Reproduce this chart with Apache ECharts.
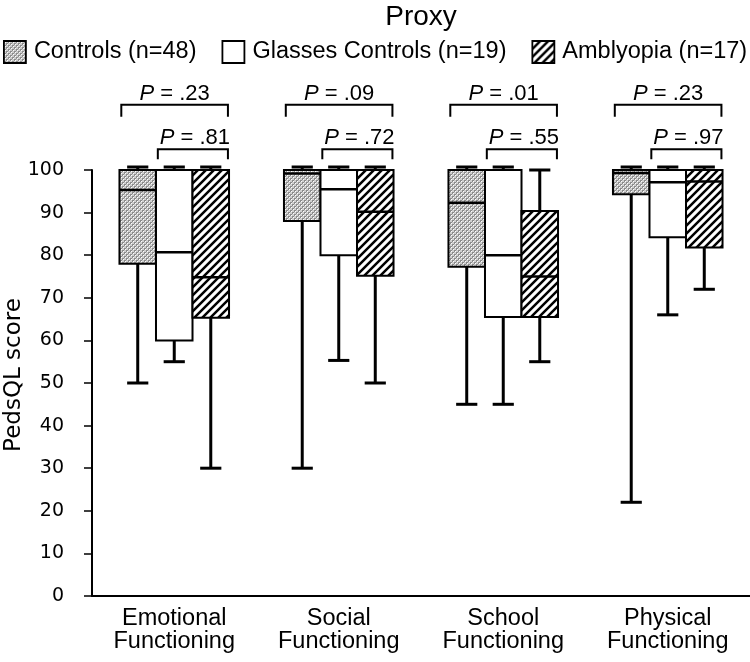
<!DOCTYPE html>
<html>
<head>
<meta charset="utf-8">
<script src="https://cdn.jsdelivr.net/npm/echarts@6/dist/echarts.min.js"></script>
<style>
html, body { margin: 0; padding: 0; background: #fff; }
#chart { width: 750px; height: 662px; }
</style>
</head>
<body>
<div id="chart"></div>
<script>
// box values per domain: [min, Q1, median, Q3, max]
var categories = ['Emotional\nFunctioning', 'Social\nFunctioning', 'School\nFunctioning', 'Physical\nFunctioning'];
var controls = [
  [50, 78, 95.3, 100, 100],
  [30, 88, 99.2, 100, 100],
  [45, 77.3, 92.3, 100, 100],
  [22, 94.3, 99.3, 100, 100]
];
var glassesControls = [
  [55, 60, 80.7, 100, 100],
  [55.3, 80, 95.5, 100, 100],
  [45, 65.5, 80, 100, 100],
  [66, 84.2, 97.1, 100, 100]
];
var amblyopia = [
  [30, 65.3, 74.8, 100, 100],
  [50, 75.2, 90.2, 100, 100],
  [55, 65.5, 75, 90.4, 100],
  [72, 81.8, 97.3, 100, 100]
];
var pAllGroups = ['.23', '.09', '.01', '.23'];
var pGlassesAmb = ['.81', '.72', '.55', '.97'];
var seriesNames = ['Controls (n=48)', 'Glasses Controls (n=19)', 'Amblyopia (n=17)'];

var FONT = '"Liberation Sans", Arial, sans-serif';
var boxFrac = 0.222;   // box width as part of the category band

// fill patterns
function stipple() {
  var c = document.createElement('canvas');
  c.width = 4; c.height = 4;
  var g = c.getContext('2d');
  g.fillStyle = '#cfcfcf'; g.fillRect(0, 0, 4, 4);
  g.fillStyle = '#8a8a8a';
  g.fillRect(0, 0, 2, 2); g.fillRect(2, 2, 2, 2);
  g.fillStyle = '#ffffff';
  g.fillRect(1, 1, 1, 1); g.fillRect(3, 3, 1, 1);
  return c;
}
function hatch() {
  var s = 8;
  var c = document.createElement('canvas');
  c.width = s; c.height = s;
  var g = c.getContext('2d');
  g.fillStyle = '#fff'; g.fillRect(0, 0, s, s);
  g.strokeStyle = '#000'; g.lineWidth = 2.5;
  g.beginPath();
  g.moveTo(-1, s + 1); g.lineTo(s + 1, -1);
  g.moveTo(-1, 1); g.lineTo(1, -1);
  g.moveTo(s - 1, s + 1); g.lineTo(s + 1, s - 1);
  g.stroke();
  return c;
}
var fills = [
  { image: stipple(), repeat: 'repeat' },
  '#ffffff',
  { image: hatch(), repeat: 'repeat' }
];

function boxSeries(name, values, slot, fill) {
  return {
    name: name,
    type: 'custom',
    itemStyle: { color: fill, borderColor: '#000', borderWidth: 1.5 },
    encode: { x: 0, y: [1, 2, 3, 4, 5] },
    data: values.map(function (d, i) { return [i].concat(d); }),
    renderItem: function (params, api) {
      var i = api.value(0);
      var w = api.size([1, 0])[0] * boxFrac;
      var cx = api.coord([i, 0])[0] + slot * w;
      var y = [1, 2, 3, 4, 5].map(function (k) { return api.coord([i, api.value(k)])[1]; });
      var yMin = y[0], yQ1 = y[1], yMed = y[2], yQ3 = y[3], yMax = y[4];
      var capW = w * 0.58;
      var capY = Math.min(yMax, yQ3 - 3);
      var line = { stroke: '#000', lineWidth: 3 };
      return {
        type: 'group',
        children: [
          { type: 'line', shape: { x1: cx, y1: yQ1, x2: cx, y2: yMin }, style: line },
          { type: 'line', shape: { x1: cx - capW / 2, y1: yMin, x2: cx + capW / 2, y2: yMin }, style: line },
          { type: 'line', shape: { x1: cx, y1: yQ3, x2: cx, y2: capY }, style: line },
          { type: 'line', shape: { x1: cx - capW / 2, y1: capY, x2: cx + capW / 2, y2: capY }, style: line },
          { type: 'rect', shape: { x: cx - w / 2, y: yQ3, width: w, height: yQ1 - yQ3 },
            style: { fill: fill, stroke: '#000', lineWidth: 2 } },
          { type: 'line', shape: { x1: cx - w / 2, y1: yMed, x2: cx + w / 2, y2: yMed },
            style: { stroke: '#000', lineWidth: 2.5 } }
        ]
      };
    }
  };
}

function bracket(x1, x2, y, drop) {
  return {
    type: 'polyline',
    shape: { points: [[x1, y + drop], [x1, y], [x2, y], [x2, y + drop]] },
    style: { stroke: '#000', lineWidth: 2, fill: null }
  };
}
function pLabel(x, y, p) {
  return {
    type: 'text',
    style: {
      x: x, y: y, text: '{i|P} = ' + p, align: 'center', verticalAlign: 'bottom',
      fill: '#000', fontSize: 22, fontFamily: FONT,
      rich: { i: { fontStyle: 'italic', fontSize: 22, fontFamily: FONT, fill: '#000' } }
    }
  };
}

var bracketSeries = {
  type: 'custom',
  silent: true,
  data: categories.map(function (c, i) { return [i]; }),
  encode: { x: 0 },
  renderItem: function (params, api) {
    var i = api.value(0);
    var w = api.size([1, 0])[0] * boxFrac;
    var cx = api.coord([i, 0])[0];
    var yTop = api.coord([i, 115.3])[1];
    var yLow = api.coord([i, 104.9])[1];
    var l1 = cx - 1.45 * w, r1 = cx + 1.47 * w;
    var l2 = cx - 0.45 * w;
    return {
      type: 'group',
      children: [
        bracket(l1, r1, yTop, 12),
        bracket(l2, r1, yLow, 10),
        pLabel((l1 + r1) / 2, yTop, pAllGroups[i]),
        pLabel((l2 + r1) / 2 + 2, yLow, pGlassesAmb[i])
      ]
    };
  }
};

var chart = echarts.init(document.getElementById('chart'));
chart.setOption({
  animation: false,
  title: {
    text: 'Proxy',
    left: 421,
    top: 3,
    padding: 0,
    textAlign: 'center',
    textStyle: { fontFamily: FONT, fontSize: 28, fontWeight: 'normal', color: '#000' }
  },
  legend: {
    left: 3,
    top: 40,
    padding: 0,
    itemWidth: 22,
    itemHeight: 22,
    itemGap: 25,
    textStyle: { fontFamily: FONT, fontSize: 23.5, color: '#000', padding: [0, 0, 0, 3] },
    data: seriesNames.map(function (n, k) {
      return { name: n, icon: 'rect', itemStyle: { color: fills[k], borderColor: '#000', borderWidth: 1.8 } };
    })
  },
  grid: { left: 92, right: 0, top: 170, bottom: 66, containLabel: false, outerBoundsMode: 'none' },
  xAxis: {
    type: 'category',
    data: categories,
    axisLine: { lineStyle: { color: '#000', width: 2 } },
    axisTick: { show: false },
    axisLabel: { interval: 0, margin: 11, color: '#000', fontFamily: FONT, fontSize: 23.5, lineHeight: 23 }
  },
  yAxis: {
    type: 'value',
    min: 0,
    max: 100,
    interval: 10,
    name: 'PedsQL score',
    nameLocation: 'middle',
    nameGap: 66,
    nameMoveOverlap: false,
    nameTextStyle: { fontFamily: 'DejaVu Sans', fontSize: 23, color: '#000', padding: [0, 0, 0, 16] },
    axisLine: { show: true, lineStyle: { color: '#000', width: 2 } },
    axisTick: { show: true, length: 8, lineStyle: { color: '#000', width: 1.5 } },
    splitLine: { show: false },
    axisLabel: { margin: 28, color: '#000', fontFamily: 'DejaVu Sans', fontSize: 19 }
  },
  series: [
    boxSeries(seriesNames[0], controls, -1, fills[0]),
    boxSeries(seriesNames[1], glassesControls, 0, fills[1]),
    boxSeries(seriesNames[2], amblyopia, 1, fills[2]),
    bracketSeries
  ]
});
</script>
</body>
</html>
